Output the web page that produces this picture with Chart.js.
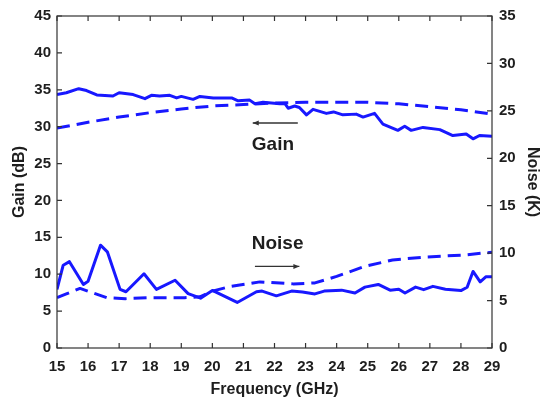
<!DOCTYPE html>
<html>
<head>
<meta charset="utf-8">
<script src="https://cdn.jsdelivr.net/npm/chart.js@4/dist/chart.umd.min.js"></script>
<style>
  html, body { margin: 0; padding: 0; background: #fff; }
  #wrap { width: 542px; height: 403px; }
</style>
</head>
<body>
<div id="wrap"><canvas id="gainChart" width="542" height="403"></canvas></div>
<script>
// measured gain (dB), left axis
var gainFreq = [15.0, 15.3, 15.7, 15.95, 16.28, 16.8, 17.0, 17.45, 17.83, 18.04, 18.3, 18.63, 18.85, 19.0, 19.38, 19.6,
    20.03, 20.62, 20.83, 21.2, 21.37, 21.63, 22.17, 22.33, 22.44, 22.65, 22.8, 23.03, 23.24, 23.67, 23.9, 24.2,
    24.63, 24.85, 25.22, 25.49, 25.97, 26.19, 26.4, 26.78, 27.32, 27.74, 28.17, 28.39, 28.6, 29.0];
var gainMeas = [34.35, 34.6, 35.15, 34.9, 34.3, 34.15, 34.6, 34.35, 33.8, 34.25, 34.15, 34.25, 33.9, 34.1, 33.7, 34.1,
    33.9, 33.9, 33.5, 33.6, 33.1, 33.3, 33.1, 33.15, 32.5, 32.8, 32.6, 31.6, 32.35, 31.8, 32.0, 31.6,
    31.7, 31.3, 31.8, 30.35, 29.5, 30.05, 29.5, 29.9, 29.6, 28.8, 29.0, 28.35, 28.8, 28.7];

// simulated gain (dB), left axis
var gainSimFreq = [15, 16, 17, 18, 19, 20, 21, 22, 23, 24, 25, 26, 27, 28, 29];
var gainSim = [29.8, 30.6, 31.3, 31.9, 32.4, 32.8, 33.0, 33.2, 33.3, 33.3, 33.3, 33.1, 32.7, 32.3, 31.7];

// measured noise (K), right axis
var noiseFreq = [15.0, 15.2, 15.4, 15.85, 16.0, 16.4, 16.62, 17.03, 17.22, 17.8, 18.2, 18.8, 19.22, 19.62, 20.0, 20.8,
    21.42, 21.6, 22.06, 22.55, 22.9, 23.3, 23.6, 24.16, 24.59, 24.91, 25.34, 25.72, 26.0, 26.2, 26.54, 26.8,
    27.1, 27.5, 28.0, 28.2, 28.39, 28.62, 28.8, 29.0];
var noiseMeas = [6.18, 8.73, 9.1, 6.7, 7.04, 10.84, 10.14, 6.18, 5.93, 7.83, 6.18, 7.14, 5.73, 5.25, 6.07, 4.8,
    5.93, 6.0, 5.5, 6.0, 5.9, 5.7, 6.0, 6.1, 5.8, 6.42, 6.7, 6.1, 6.2, 5.8, 6.42, 6.15,
    6.5, 6.2, 6.05, 6.4, 8.07, 6.97, 7.5, 7.5];

// simulated noise (K), right axis
var noiseSimFreq = [15.0, 15.3, 15.74, 16.6, 17.2, 17.95, 19.1, 19.6, 20.0, 20.6, 21.53, 22.6, 23.3, 24.0, 24.9, 25.8, 26.9, 28.1, 29.0];
var noiseSim = [5.3, 5.7, 6.28, 5.3, 5.2, 5.3, 5.3, 5.4, 6.0, 6.5, 6.97, 6.76, 6.86, 7.55, 8.6, 9.28, 9.6, 9.8, 10.1];

var BLUE = '#1818ff';
var INK = '#1e1e1e';
var FONT = '"Liberation Sans", Arial, sans-serif';

function pts(xs, ys) {
    return xs.map(function(x, i) { return {x: x, y: ys[i]}; });
}

// box round the plot, inward ticks, arrows and labels
var framePlugin = {
    id: 'frame',
    afterDraw: function(chart) {
        var ctx = chart.ctx;
        var a = chart.chartArea;
        var sx = chart.scales.x, sy = chart.scales.y, sy1 = chart.scales.y1;
        ctx.save();
        ctx.strokeStyle = '#333';
        ctx.lineWidth = 1.2;
        ctx.strokeRect(a.left, a.top, a.right - a.left, a.bottom - a.top);

        ctx.beginPath();
        sx.ticks.forEach(function(t) {
            var px = sx.getPixelForValue(t.value);
            ctx.moveTo(px, a.bottom); ctx.lineTo(px, a.bottom - 5);
            ctx.moveTo(px, a.top); ctx.lineTo(px, a.top + 5);
        });
        sy.ticks.forEach(function(t) {
            var py = sy.getPixelForValue(t.value);
            ctx.moveTo(a.left, py); ctx.lineTo(a.left + 5, py);
        });
        sy1.ticks.forEach(function(t) {
            var py = sy1.getPixelForValue(t.value);
            ctx.moveTo(a.right, py); ctx.lineTo(a.right - 5, py);
        });
        ctx.stroke();

        function arrow(x0, x1, y) {
            ctx.strokeStyle = '#333';
            ctx.fillStyle = '#333';
            ctx.lineWidth = 1.3;
            ctx.beginPath();
            ctx.moveTo(x0, y); ctx.lineTo(x1, y);
            ctx.stroke();
            var d = x1 > x0 ? 1 : -1;
            ctx.beginPath();
            ctx.moveTo(x1, y);
            ctx.lineTo(x1 - d * 6, y - 2.5);
            ctx.lineTo(x1 - d * 6, y + 2.5);
            ctx.closePath();
            ctx.fill();
        }

        // Gain <-
        arrow(sx.getPixelForValue(22.75), sx.getPixelForValue(21.3), sy.getPixelForValue(30.5));
        // Noise ->
        arrow(sx.getPixelForValue(21.37), sx.getPixelForValue(22.8), sy1.getPixelForValue(8.6));

        ctx.fillStyle = INK;
        ctx.font = 'bold 19px ' + FONT;
        ctx.textAlign = 'center';
        ctx.textBaseline = 'middle';
        ctx.fillText('Gain', sx.getPixelForValue(21.95), sy.getPixelForValue(27.5));
        ctx.fillText('Noise', sx.getPixelForValue(22.1), sy1.getPixelForValue(11.0));
        ctx.restore();
    }
};

var ctx = document.getElementById('gainChart');
var myChart = new Chart(ctx, {
    type: 'line',
    data: {
        datasets: [
            {data: pts(gainFreq, gainMeas), yAxisID: 'y', borderColor: BLUE, borderWidth: 3},
            {data: pts(gainSimFreq, gainSim), yAxisID: 'y', borderColor: BLUE, borderWidth: 3, borderDash: [13, 7]},
            {data: pts(noiseFreq, noiseMeas), yAxisID: 'y1', borderColor: BLUE, borderWidth: 3},
            {data: pts(noiseSimFreq, noiseSim), yAxisID: 'y1', borderColor: BLUE, borderWidth: 3, borderDash: [13, 7]}
        ]
    },
    options: {
        responsive: false,
        animation: false,
        elements: {point: {radius: 0}, line: {tension: 0, borderCapStyle: 'butt', borderJoinStyle: 'round'}},
        layout: {padding: {top: 10, left: 0, right: 0, bottom: 0}},
        plugins: {legend: {display: false}, tooltip: {enabled: false}},
        scales: {
            x: {
                type: 'linear', min: 15, max: 29,
                grid: {display: false, drawTicks: false},
                border: {display: false},
                ticks: {stepSize: 1, padding: 10, color: INK, font: {family: FONT, size: 15, weight: 'bold'}},
                title: {display: true, text: 'Frequency (GHz)', color: INK, padding: {top: 0, bottom: 4},
                    font: {family: FONT, size: 16, weight: 'bold'}},
                afterFit: function(s) { s.height = 55; }
            },
            y: {
                position: 'left', min: 0, max: 45,
                grid: {display: false, drawTicks: false},
                border: {display: false},
                ticks: {stepSize: 5, padding: 6, color: INK, font: {family: FONT, size: 15, weight: 'bold'}},
                title: {display: true, text: 'Gain (dB)', color: INK, padding: {top: 10, bottom: 0},
                    font: {family: FONT, size: 16, weight: 'bold'}},
                afterFit: function(s) { s.width = 57; }
            },
            y1: {
                position: 'right', min: 0, max: 35,
                grid: {display: false, drawTicks: false},
                border: {display: false},
                ticks: {stepSize: 5, padding: 7, color: INK, font: {family: FONT, size: 15, weight: 'bold'}},
                title: {display: true, text: 'Noise (K)', color: INK, padding: {top: 0, bottom: 0},
                    font: {family: FONT, size: 16, weight: 'bold'}},
                afterFit: function(s) { s.width = 50; }
            }
        }
    },
    plugins: [framePlugin]
});
</script>
</body>
</html>
